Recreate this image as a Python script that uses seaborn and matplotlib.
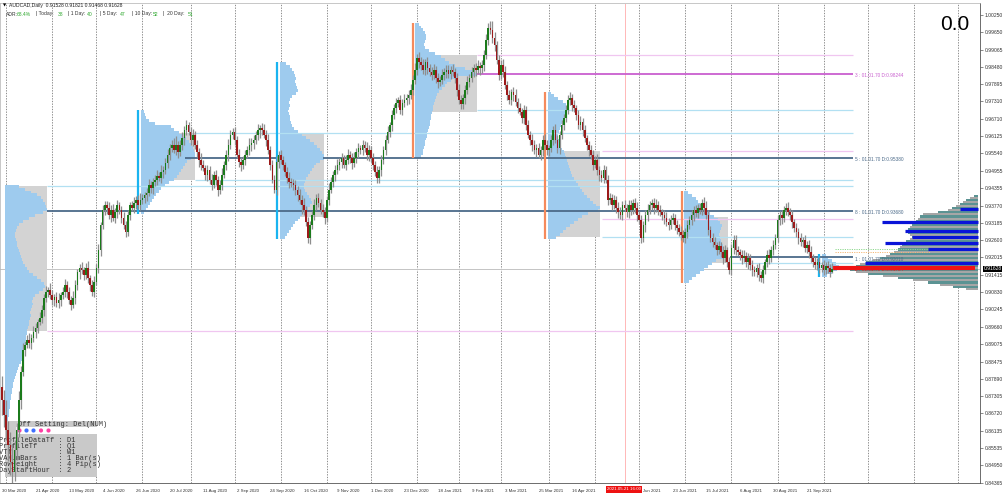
import numpy as np
import matplotlib
matplotlib.use("Agg")
import matplotlib.pyplot as plt
from matplotlib.patches import Rectangle
import seaborn as sns

# ------------------------------------------------------------------ data
symbol_title = "AUDCAD,Daily"
last_ohlc = ["0.91528", "0.91821", "0.91468", "0.91628"]
adr_names = ["ADR:", "| Today:", "| 1 Day:", "| 5 Day:", "| 10 Day:", "|  20 Day:"]
adr_values = ["68.4%", "38", "40", "47", "52", "51"]
big_counter = "0.0"

first_open = 0.8760
close_1e4 = [
    8717, 8666, 8615, 8564, 8507, 8473, 8547, 8615, 8717, 8812,
    8887, 8904, 8921, 8911, 8928, 8948, 8961, 8982, 8995,
    9023, 9063, 9084, 9090, 9073, 9057, 9067, 9046, 9057, 9073,
    9084, 9107, 9084, 9057, 9040, 9063, 9107, 9151, 9165,
    9158, 9141, 9165, 9131, 9107, 9084, 9118, 9165, 9226, 9311,
    9362, 9379, 9369, 9345, 9362, 9335, 9355, 9379, 9362,
    9335, 9311, 9287, 9345, 9379, 9369, 9386, 9396, 9379, 9396,
    9403, 9413, 9420, 9447, 9437, 9457, 9464, 9477, 9471,
    9491, 9498, 9521, 9549, 9572, 9583, 9566, 9583, 9559, 9583,
    9606, 9633, 9650, 9627, 9600, 9617, 9583, 9559, 9532,
    9515, 9505, 9481, 9498, 9464, 9447, 9481, 9464, 9430, 9447,
    9481, 9515, 9549, 9583, 9617, 9627, 9600, 9549, 9525,
    9515, 9532, 9549, 9566, 9583, 9589, 9600, 9617, 9633, 9640,
    9633, 9617, 9600, 9566, 9515, 9464, 9430, 9525, 9549,
    9532, 9515, 9491, 9471, 9457, 9454, 9447, 9430, 9413, 9396,
    9379, 9362, 9321, 9267, 9311, 9345, 9379, 9403, 9386,
    9362, 9355, 9335, 9396, 9430, 9457, 9481, 9498, 9515, 9525,
    9538, 9515, 9532, 9549, 9538, 9521, 9538, 9559, 9572,
    9566, 9583, 9572, 9549, 9566, 9538, 9515, 9491, 9471, 9498,
    9532, 9566, 9600, 9627, 9650, 9684, 9708, 9725, 9735,
    9701, 9725, 9735, 9742, 9752, 9769, 9803, 9837, 9878, 9864,
    9854, 9837, 9864, 9844, 9830, 9820, 9837, 9810, 9796, 9803,
    9820, 9830, 9837, 9824, 9837, 9830, 9810, 9769, 9735,
    9722, 9742, 9769, 9796, 9810, 9830, 9844, 9837, 9851, 9844,
    9854, 9888, 9939, 9980, 9973, 9946, 9922, 9871, 9820,
    9854, 9830, 9786, 9752, 9735, 9762, 9752, 9729, 9708, 9695,
    9674, 9701, 9650, 9617, 9600, 9583, 9566, 9572, 9549,
    9566, 9600, 9583, 9566, 9572, 9600, 9633, 9600, 9572, 9617,
    9650, 9674, 9701, 9735, 9742, 9718, 9708, 9684, 9650,
    9661, 9633, 9606, 9583, 9566, 9549, 9515, 9532, 9498, 9481,
    9471, 9498, 9464, 9396, 9403, 9379, 9396, 9369, 9355,
    9345, 9379, 9369, 9355, 9379, 9362, 9386, 9369, 9345, 9328,
    9267, 9311, 9345, 9362, 9379, 9386, 9369, 9379, 9362,
    9355, 9345, 9335, 9321, 9311, 9328, 9335, 9311, 9301, 9287,
    9277, 9267, 9287, 9311, 9328, 9345, 9362, 9352, 9369,
    9362, 9386, 9369, 9345, 9294, 9267, 9253, 9243, 9226, 9240,
    9219, 9199, 9226, 9185, 9158, 9233, 9260, 9226, 9219,
    9209, 9199, 9206, 9185, 9199, 9175, 9158, 9151, 9165, 9141,
    9131, 9158, 9185, 9209, 9199, 9226, 9243, 9267, 9328,
    9345, 9335, 9362, 9369, 9355, 9345, 9321, 9301, 9287, 9267,
    9253, 9260, 9233, 9243, 9219, 9199, 9185, 9175, 9185, 9165,
    9175, 9158, 9172, 9165, 9153, 9162.8]

upper_wick_pips = [
    40, 35, 50, 30, 45, 60, 35, 25, 30, 20,
    22, 15, 18, 25, 12, 20, 16, 10, 22, 18,
    14, 20, 12, 25, 16, 10, 18, 22, 12, 15,
    20, 14, 18, 12, 25, 16, 10, 14, 20, 12,
    18, 25, 12, 16, 20, 14, 22, 10, 18, 15,
    12, 20, 16, 22, 14, 18, 10, 15, 20, 12,
    16, 10, 14, 20, 12, 18, 22, 14, 10, 16,
    20, 12, 15, 18, 22, 14, 25, 12, 16, 20,
    14, 18, 22, 30, 12, 16, 20, 14, 18, 12,
    15, 20, 12, 18, 14, 22, 16, 10, 18, 14,
    20, 12, 16, 14, 18, 22, 12, 16, 20, 15,
    12, 18, 14, 20, 16, 12, 18, 14, 22, 16,
    18, 14, 20, 12, 16, 22, 15, 20, 14, 18,
    16, 20, 12, 18, 14, 10, 16, 20, 12, 14,
    18, 12, 20, 16, 22, 14, 18, 12, 15, 20,
    14, 18, 12, 20, 16, 14, 22, 18, 12, 16,
    20, 14, 18, 12, 16, 20, 14, 18, 22, 12,
    16, 12, 18, 14, 20, 16, 12, 18, 14, 20,
    12, 18, 14, 16, 20, 12, 18, 14, 16, 12,
    18, 14, 20, 12, 16, 22, 18, 25, 14, 20,
    16, 20, 12, 18, 14, 16, 20, 12, 18, 14,
    20, 14, 18, 16, 12, 20, 14, 18, 22, 16,
    14, 18, 20, 12, 16, 14, 18, 20, 12, 16,
    18, 22, 16, 25, 30, 20, 14, 18, 16, 22,
    20, 14, 18, 12, 16, 20, 14, 18, 12, 16,
    14, 18, 12, 20, 16, 14, 18, 12, 16, 20,
    18, 12, 16, 14, 20, 18, 12, 16, 14, 18,
    16, 20, 14, 18, 12, 16, 20, 14, 18, 12,
    14, 18, 16, 12, 20, 14, 18, 16, 12, 18,
    16, 12, 18, 14, 20, 16, 12, 18, 14, 16,
    18, 14, 16, 20, 12, 18, 14, 16, 20, 14,
    12, 16, 20, 14, 18, 12, 16, 20, 14, 18,
    16, 14, 18, 12, 20, 16, 14, 18, 12, 16,
    14, 18, 12, 16, 14, 20, 25, 16, 14, 18,
    16, 12, 18, 14, 20, 16, 12, 18, 14, 16,
    18, 14, 12, 16, 20, 14, 18, 12, 16, 14,
    12, 16, 14, 18, 12, 16, 20, 14, 18, 12,
    16, 14, 18, 12, 16, 20, 14, 18, 12, 16,
    14, 18, 12, 16, 14, 18, 20, 12, 16, 14,
    16, 12, 18, 14, 16, 14, 19]

lower_wick_pips = [
    50, 40, 35, 55, 45, 40, 30, 35, 25, 30,
    15, 20, 12, 18, 22, 14, 20, 16, 12, 18,
    20, 14, 18, 12, 16, 22, 14, 18, 20, 12,
    16, 20, 14, 18, 12, 20, 16, 22, 14, 18,
    12, 16, 20, 14, 18, 12, 16, 20, 14, 18,
    20, 14, 25, 12, 16, 20, 14, 18, 12, 16,
    14, 18, 12, 16, 20, 14, 18, 12, 16, 20,
    12, 16, 20, 14, 18, 12, 16, 20, 14, 18,
    18, 14, 12, 16, 20, 14, 18, 22, 16, 12,
    16, 20, 14, 18, 25, 16, 12, 18, 20, 14,
    18, 12, 16, 20, 14, 18, 12, 16, 20, 14,
    14, 18, 12, 16, 20, 14, 18, 12, 16, 20,
    20, 14, 18, 25, 16, 12, 20, 14, 18, 12,
    12, 16, 20, 14, 18, 12, 16, 20, 14, 18,
    16, 20, 14, 30, 18, 12, 16, 20, 14, 18,
    18, 14, 12, 16, 20, 14, 18, 12, 16, 20,
    14, 18, 20, 12, 16, 14, 18, 20, 12, 16,
    20, 14, 18, 12, 16, 20, 14, 18, 12, 16,
    16, 20, 14, 18, 12, 16, 20, 14, 18, 12,
    14, 18, 12, 16, 20, 14, 18, 12, 16, 20,
    18, 12, 16, 20, 14, 18, 12, 16, 20, 14,
    12, 16, 20, 14, 18, 12, 16, 20, 14, 18,
    16, 20, 14, 18, 12, 16, 20, 14, 25, 16,
    20, 14, 18, 12, 16, 20, 14, 18, 12, 16,
    14, 18, 12, 16, 20, 14, 18, 12, 16, 20,
    18, 12, 16, 20, 14, 25, 12, 16, 20, 14,
    16, 20, 14, 18, 12, 16, 20, 14, 18, 12,
    12, 16, 20, 14, 18, 12, 16, 20, 14, 18,
    20, 14, 18, 12, 16, 20, 14, 18, 12, 16,
    14, 18, 12, 16, 20, 14, 18, 12, 16, 20,
    18, 12, 16, 20, 14, 18, 12, 25, 20, 14,
    16, 20, 14, 18, 12, 16, 20, 14, 18, 12,
    12, 16, 20, 14, 18, 12, 16, 20, 14, 18,
    20, 14, 18, 12, 16, 20, 14, 18, 12, 16,
    14, 18, 12, 16, 20, 14, 18, 12, 16, 20,
    18, 12, 16, 20, 14, 18, 22, 16, 20, 14,
    16, 20, 14, 18, 12, 16, 20, 14, 18, 12,
    12, 16, 20, 14, 18, 12, 16, 20, 14, 18,
    20, 14, 18, 12, 16, 20, 14, 18, 12, 16,
    18, 12, 16, 14, 16, 18, 6]

# one label every 16 daily bars; the 10 May 2021 one is hidden under the cursor label
date_labels = ["30 Mar 2020", "21 Apr 2020", "13 May 2020", "4 Jun 2020", "26 Jun 2020",
               "20 Jul 2020", "11 Aug 2020", "2 Sep 2020", "24 Sep 2020", "16 Oct 2020",
               "9 Nov 2020", "1 Dec 2020", "23 Dec 2020", "18 Jan 2021", "9 Feb 2021",
               "3 Mar 2021", "25 Mar 2021", "16 Apr 2021", "", "1 Jun 2021",
               "23 Jun 2021", "15 Jul 2021", "6 Aug 2021", "30 Aug 2021", "21 Sep 2021"]
date_label_step = 16
# first trading bar of every month (vertical grid separators), incl. projected future months
month_start_bars = [2, 24, 45, 67, 90, 111, 133, 155, 176, 198, 218, 238, 261, 283,
                    304, 326, 348, 370, 392, 413, 435, 456]
cursor_time_label = "2021.05.21 16:00"
cursor_bar = 297.2

price_ticks = ["1.00250", "0.99650", "0.99065", "0.98480", "0.97895", "0.97310", "0.96710",
               "0.96125", "0.95540", "0.94955", "0.94355", "0.93770", "0.93185", "0.92600",
               "0.92015", "0.91415", "0.90830", "0.90245", "0.89660", "0.89075", "0.88475",
               "0.87890", "0.87305", "0.86720", "0.86135", "0.85535", "0.84950", "0.84365"]
bid_price = 0.91628

# quarterly volume profiles (row height 10 pips)
profile_step = 0.0010
profile_line_bar = [None, 65.1, 131.2, 195.9, 259.1, 324.3, 389.8]
profile_top = [0.9443, 0.9695, 0.9858, 0.9993, 0.9759, 0.9420, 0.9209]
profile_va_high = [0.9443, 0.9623, 0.9623, 0.9888, 0.9562, 0.9338, None]
profile_va_low = [0.8951, 0.9464, 0.9338, 0.9695, 0.9270, 0.9182, None]
vol_q2_2020 = [14, 20, 26, 32, 36, 38, 40, 41, 42, 38, 30, 24, 18, 14, 12, 11, 10, 10, 11, 12,
               12, 13, 14, 15, 16, 17, 18, 20, 22, 24, 28, 32, 36, 39, 40, 38, 34, 30, 28, 27,
               28, 27, 26, 25, 26, 25, 24, 24, 23, 22, 22, 21, 21, 20, 20, 19, 19, 18, 18, 17,
               16, 14, 13, 12, 11, 10, 9, 8, 8, 7, 7, 6, 6, 5, 5, 5, 4, 4, 4, 3, 3, 3]
vol_q3_2020 = [3, 4, 5, 8, 14, 30, 33, 38, 42, 45, 48, 50, 52, 53, 54, 54, 50, 46, 44, 42,
               40, 38, 36, 33, 28, 24, 20, 18, 15, 13, 11, 9, 7, 5, 3]
vol_q4_2020 = [6, 10, 12, 14, 15, 16, 15, 16, 17, 18, 16, 12, 10, 9, 10, 9, 8, 9, 10, 10,
               11, 12, 14, 18, 22, 26, 30, 34, 37, 40, 42, 44, 44, 40, 36, 34, 32, 30, 28, 26,
               25, 24, 24, 25, 27, 29, 31, 32, 30, 28, 25, 22, 20, 18, 15, 13, 11, 9, 7, 5]
vol_q1_2021 = [4, 6, 8, 10, 11, 11, 10, 9, 10, 14, 20, 26, 30, 34, 40, 50, 60, 62, 42, 36,
               32, 30, 27, 24, 22, 21, 20, 19, 18, 18, 17, 16, 16, 15, 15, 14, 13, 12, 12, 11,
               10, 10, 9, 8, 8, 6]
vol_q2_2021 = [3, 6, 10, 15, 18, 19, 18, 17, 16, 15, 14, 13, 12, 11, 10, 10, 11, 12, 13, 14,
               16, 17, 18, 19, 20, 21, 22, 23, 24, 26, 28, 30, 32, 34, 36, 39, 42, 45, 48, 52,
               50, 40, 34, 30, 26, 22, 18, 15, 12, 8]
vol_q3_2021 = [4, 8, 12, 14, 16, 18, 22, 26, 30, 34, 36, 38, 37, 36, 35, 36, 37, 38, 39, 40,
               42, 44, 40, 32, 28, 24, 20, 16, 12, 8, 5]
vol_q4_2021 = [4, 6, 10, 14, 17, 15, 10, 5]
profile_vols = [vol_q2_2020, vol_q3_2020, vol_q4_2020, vol_q1_2021, vol_q2_2021, vol_q3_2021, vol_q4_2021]

# right-hand composite profile
rp_top = 0.9410
rp_step = 0.0007
rp_vol = [4, 8, 12, 15, 18, 22, 26, 30, 40, 55, 58, 60, 62, 65, 66, 68, 70, 72, 70, 68,
          66, 68, 72, 74, 76, 78, 80, 84, 88, 92, 98, 105, 112, 118, 122, 126, 128, 122, 110, 95,
          80, 65, 50, 38, 25, 12]
hv_price = [0.93654, 0.93223, 0.92907, 0.92714, 0.92490, 0.92286, 0.91831]
hv_vol = [18, 96, 73, 66, 93, 50, 113]
rp_poc_price = 0.9165
rp_poc_from_bar = 396.5

# naked POC / value-area levels
level_price = [0.9360, 0.9538, 0.9538, 0.9201, 0.98244,
               0.9443, 0.9623, 0.9463, 0.9701, 0.9270, 0.9181,
               0.9888, 0.8951, 0.9561, 0.9331]
level_from_bar = [21.5, 87.3, 153.1, 347.3, 226.6,
                  21.5, 92.1, 92.1, 226.6, 286.3, 348.3,
                  226.6, 21.5, 286.3, 286.3]
level_to_bar = [406.0, 131.2, 406.0, 406.0, 406.0,
                406.0, 406.0, 406.0, 406.0, 406.0, 406.0,
                406.0, 406.0, 406.0, 406.0]
level_kind = ["poc", "poc", "poc", "poc", "poc_m",
              "va_c", "va_c", "va_c", "va_c", "va_c", "va_c",
              "va_p", "va_p", "va_p", "va_p"]
level_labels = ["3 : 01.01.70 D:0.98244", "5 : 01.01.70 D:0.95380", "8 : 01.01.70 D:0.93680",
                "1 : 01.01.70 D:0.92010", "2 : 01.01.70 D:0.91724"]
level_label_price = [0.98244, 0.9538, 0.9360, 0.9201, 0.9165]
level_label_kind = ["poc_m", "poc", "poc", "poc", "red"]
weekly_dotted_price = [0.9230, 0.9220]

panel_title = "Off Setting: Del(NUM)"
panel_rows = ["ProfileDataTf : D1", "ProfileTf     : Q1", "VTf           : W1",
              "VANumBars     : 1 Bar(s)", "RowHeight     : 4 Pip(s)", "DayStartHour  : 2"]
panel_button_colors = ["#ff3fa4", "#3f6fff", "#3f6fff", "#ff3fa4", "#ff3fa4"]

# ------------------------------------------------------------------ setup
sns.set_theme(style="white")
plt.rcParams["font.family"] = ["Liberation Sans", "DejaVu Sans"]

W, H = 1005, 495
fig = plt.figure(figsize=(W / 100, H / 100), dpi=100, facecolor="white")
ax = fig.add_axes([0, 12 / H, 980 / W, 480 / H])
ax.set_facecolor("white")

BAR_PX, X0_PX = 2.096, 2.0
PRICE_TOP, PX_PRICE = 1.00747, 0.0003394


def bar_of(px):
    return (px - X0_PX) / BAR_PX


def price_of(py):
    return PRICE_TOP - PX_PRICE * py


def P(x, y):
    return x / W, 1 - y / H


ax.set_xlim(bar_of(0), bar_of(980))
ax.set_ylim(price_of(483), price_of(3))
VSCALE = 1.0 / BAR_PX

# grid (vertical dashed month separators)
for gx in month_start_bars:
    ax.axvline(gx, color="#7a7a7a", lw=0.6, ls=(0, (1.6, 1.6)), zorder=0.5)
ax.axvline(cursor_bar, color="#ff5a5a", lw=0.6, ls=(0, (1.2, 1.2)), zorder=0.6)

# bid line
ax.axhline(bid_price, color="#c4c4c4", lw=0.7, zorder=0.8)

# ------------------------------------------------------------------ profiles
line_colors = [None, "#1ab4f0", "#1ab4f0", "#f58a5c", "#f58a5c", "#f58a5c", "#1ab4f0"]
for k, vols in enumerate(profile_vols):
    v = np.asarray(vols, float) * VSCALE
    prices = profile_top[k] - profile_step * np.arange(len(v))
    lb = profile_line_bar[k]
    left = 1.43 if lb is None else lb + 1.2
    if profile_va_high[k] is not None:
        ax.add_patch(Rectangle((left, profile_va_low[k]), v.max(),
                               profile_va_high[k] - profile_va_low[k],
                               facecolor="#d3d3d3", edgecolor="none", zorder=1))
    ax.barh(prices, v, left=left, height=profile_step, color="#9ecbee",
            linewidth=0, zorder=2, align="center")
    if lb is not None:
        ax.vlines(lb, prices[-1] - profile_step / 2, prices[0] + profile_step / 2,
                  color=line_colors[k], lw=1.6, zorder=3)

# level lines
kind_style = {"poc": ("#4b6a89", 1.3), "poc_m": ("#c95fcf", 1.3),
              "va_c": ("#b2e0f2", 0.9), "va_p": ("#f0c6f0", 0.9)}
for pr, b0, b1, kd in zip(level_price, level_from_bar, level_to_bar, level_kind):
    c, lw = kind_style[kd]
    ax.hlines(pr, b0, b1, color=c, lw=lw, zorder=2.5)
label_colors = {"poc": "#4b6a89", "poc_m": "#c95fcf", "red": "#e02020"}
for txt, pr, kd in zip(level_labels, level_label_price, level_label_kind):
    ax.text(bar_of(855), pr - 0.0006, txt, fontsize=3.4, color=label_colors[kd],
            va="center", ha="left", zorder=9)
for pr, c in zip(weekly_dotted_price, ["#8fd88f", "#f5b878"]):
    ax.hlines(pr, bar_of(835), bar_of(930), color=c, lw=0.7, ls=(0, (1.2, 1.2)), zorder=3)

# right composite profile
anchor = bar_of(978)
rv = np.asarray(rp_vol, float) * VSCALE
rprices = rp_top - rp_step * np.arange(len(rv))
rcolors = ["#5b9393" if i % 2 == 0 else "#a6a6a6" for i in range(len(rv))]
ax.barh(rprices, -rv, left=anchor, height=rp_step, color=rcolors, linewidth=0,
        zorder=2, align="center")
ax.hlines(hv_price, anchor - np.asarray(hv_vol) * VSCALE, anchor, color="#0a14d8",
          lw=2.3, zorder=4)
ax.hlines(rp_poc_price, rp_poc_from_bar, bar_of(975), color="#f01414", lw=3.0, zorder=4)

# ------------------------------------------------------------------ info panel (under candles)
pt = ax.transAxes.inverted()


def axfrac(x, y):
    return pt.transform(fig.transFigure.transform(P(x, y)))


x0, y0 = axfrac(5, 477)
x1, y1 = axfrac(97, 421)
ax.add_patch(Rectangle((x0, y0), x1 - x0, y1 - y0, transform=ax.transAxes,
                       facecolor="#c9c9c9", edgecolor="none", zorder=3.5))
x0, y0 = axfrac(16, 434)
x1, y1 = axfrac(97, 427)
ax.add_patch(Rectangle((x0, y0), x1 - x0, y1 - y0, transform=ax.transAxes,
                       facecolor="white", edgecolor="none", zorder=3.6))
tx, ty = axfrac(18, 424.5)
ax.text(tx, ty, panel_title, transform=ax.transAxes, fontsize=5.0,
        family=["Liberation Mono", "DejaVu Sans Mono"], color="#303030",
        va="center", ha="left", zorder=3.7)
for i, row in enumerate(panel_rows):
    tx, ty = axfrac(-1.3, 440 + 6 * i)
    ax.text(tx, ty, row, transform=ax.transAxes, fontsize=5.0,
            family=["Liberation Mono", "DejaVu Sans Mono"], color="#303030",
            va="center", ha="left", zorder=3.7, clip_on=True)
btn_x = [bar_of(px) for px in (19.5, 26.5, 33.5, 41, 48.5)]
btn_y = [price_of(430.5)] * len(btn_x)
sns.scatterplot(x=btn_x, y=btn_y, hue=list(range(len(btn_x))),
                palette=panel_button_colors, s=9, linewidth=0, legend=False, ax=ax, zorder=3.8)

# ------------------------------------------------------------------ candles
close = np.asarray(close_1e4, float) / 10000.0
n = len(close)
bars = np.arange(n)
opens = np.r_[first_open, close[:-1]]
highs = np.maximum(opens, close) + np.asarray(upper_wick_pips[:n]) / 10000.0
lows = np.minimum(opens, close) - np.asarray(lower_wick_pips[:n]) / 10000.0
body = close - opens
body = np.where(np.abs(body) < 0.00015, np.where(body >= 0, 0.00015, -0.00015), body)
bull = close >= opens
ax.vlines(bars, lows, highs, color="#8e8e8e", lw=0.9, zorder=6)
ax.bar(bars[bull], body[bull], bottom=opens[bull], width=0.78, color="#1b7a1b",
       linewidth=0, zorder=7)
ax.bar(bars[~bull], body[~bull], bottom=opens[~bull], width=0.78, color="#9c1a1a",
       linewidth=0, zorder=7)

# ------------------------------------------------------------------ axes / ticks
for s in ["top", "left"]:
    ax.spines[s].set_color("#b0b0b0")
    ax.spines[s].set_linewidth(0.5)
for s in ["right", "bottom"]:
    ax.spines[s].set_color("#555555")
    ax.spines[s].set_linewidth(0.6)
ax.yaxis.tick_right()
ax.set_yticks([float(t) for t in price_ticks])
ax.set_yticklabels(price_ticks)
ax.tick_params(axis="y", length=2, width=0.4, pad=1.5, labelsize=3.6, colors="#333333")
ax.set_xticks(np.arange(len(date_labels)) * date_label_step)
ax.set_xticklabels(date_labels, ha="left")
ax.tick_params(axis="x", length=3, width=0.4, pad=1.2, labelsize=3.2, colors="#333333")
ax.grid(False)

# current price box
fig.text(*P(983.5, 269), f"{bid_price:.5f}", fontsize=3.6, color="white", va="center",
         ha="left", bbox=dict(facecolor="black", edgecolor="none", pad=0.6))
# cursor time label
fig.text(*P(624, 489.5), cursor_time_label, fontsize=3.2, color="white", va="center",
         ha="center", bbox=dict(facecolor="#ee1111", edgecolor="none", pad=0.9))

# header
fig.text(*P(3, 5.5), "\u25bc", fontsize=3.0, color="black", va="center", ha="left",
         family=["DejaVu Sans"])
fig.text(*P(9, 5.5), symbol_title + "  " + " ".join(last_ohlc), fontsize=3.6,
         color="#222222", va="center", ha="left")
adr_name_x = [6, 36, 68, 100, 132, 163]
adr_val_x = [17, 58, 87, 120, 153, 188]
for nm, vl, xn, xv in zip(adr_names, adr_values, adr_name_x, adr_val_x):
    fig.text(*P(xn, 14), nm, fontsize=3.6, color="#333333", va="center", ha="left")
    fig.text(*P(xv, 14), vl, fontsize=3.6, color="#2ea82e", va="center", ha="left")

fig.text(*P(955, 25), big_counter, fontsize=15, color="black", va="center", ha="center")

fig.savefig("out.png", dpi=100, facecolor="white")
